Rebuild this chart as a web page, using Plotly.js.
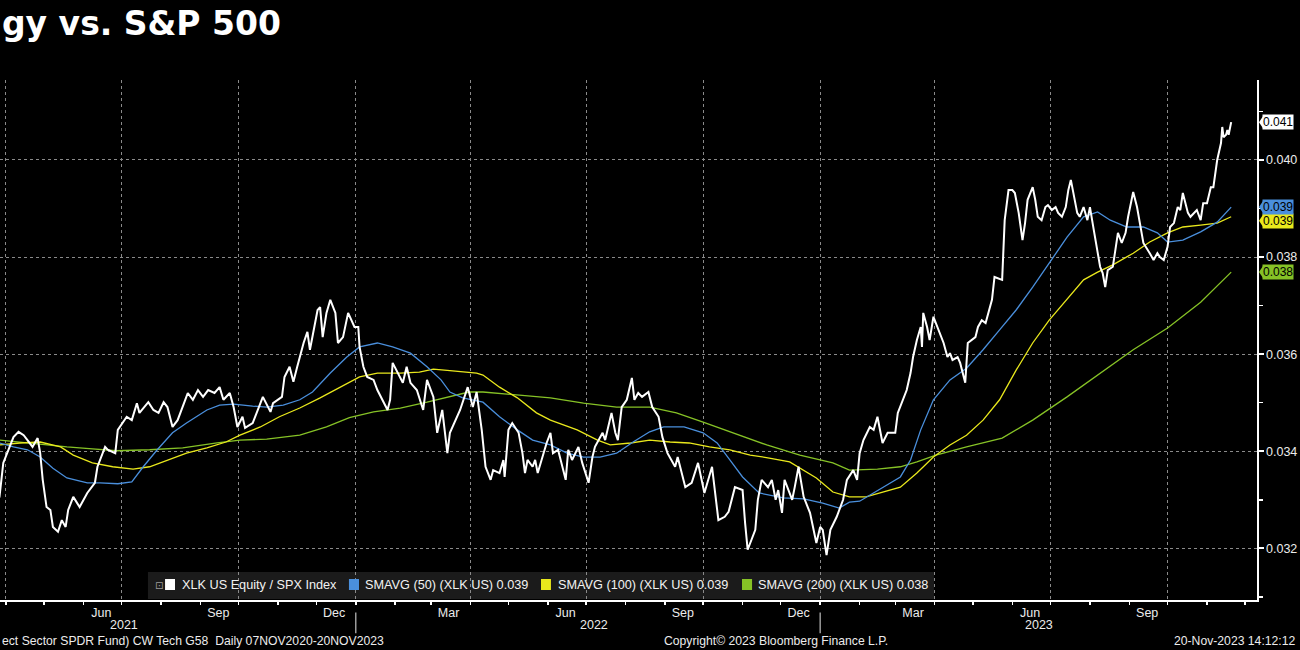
<!DOCTYPE html>
<html>
<head>
<meta charset="utf-8">
<script src="https://cdn.plot.ly/plotly-3.0.1.min.js"></script>
<style>
html,body{margin:0;padding:0;background:#000;}
#chart{width:1300px;height:650px;}
</style>
</head>
<body>
<div id="chart"></div>
<script>
// ---------------- DATA ----------------
const ratioDates = ["2021-03-24","2021-03-27","2021-03-30","2021-04-04","2021-04-07","2021-04-11","2021-04-15","2021-04-18","2021-04-22","2021-04-26","2021-04-28","2021-04-30","2021-05-03","2021-05-06","2021-05-08","2021-05-12","2021-05-15","2021-05-18","2021-05-20","2021-05-24","2021-05-29","2021-06-04","2021-06-10","2021-06-12","2021-06-18","2021-06-20","2021-06-26","2021-06-28","2021-07-05","2021-07-09","2021-07-13","2021-07-15","2021-07-22","2021-07-26","2021-07-30","2021-08-03","2021-08-06","2021-08-10","2021-08-14","2021-08-20","2021-08-22","2021-08-26","2021-08-30","2021-09-03","2021-09-07","2021-09-12","2021-09-16","2021-09-19","2021-09-24","2021-09-27","2021-09-30","2021-10-04","2021-10-06","2021-10-12","2021-10-16","2021-10-20","2021-10-26","2021-10-28","2021-11-04","2021-11-06","2021-11-10","2021-11-13","2021-11-16","2021-11-21","2021-11-24","2021-11-26","2021-12-02","2021-12-04","2021-12-06","2021-12-09","2021-12-12","2021-12-16","2021-12-18","2021-12-22","2021-12-26","2021-12-31","2022-01-03","2022-01-04","2022-01-07","2022-01-10","2022-01-15","2022-01-18","2022-01-26","2022-01-28","2022-01-30","2022-02-05","2022-02-07","2022-02-10","2022-02-13","2022-02-18","2022-02-23","2022-02-26","2022-03-03","2022-03-06","2022-03-10","2022-03-14","2022-03-16","2022-03-24","2022-03-30","2022-04-03","2022-04-06","2022-04-10","2022-04-13","2022-04-17","2022-04-19","2022-04-24","2022-04-27","2022-04-28","2022-05-01","2022-05-04","2022-05-09","2022-05-12","2022-05-14","2022-05-16","2022-05-20","2022-05-22","2022-05-24","2022-05-31","2022-06-03","2022-06-05","2022-06-09","2022-06-15","2022-06-17","2022-06-20","2022-06-25","2022-06-28","2022-07-03","2022-07-06","2022-07-08","2022-07-14","2022-07-16","2022-07-21","2022-07-24","2022-07-26","2022-07-29","2022-08-02","2022-08-06","2022-08-08","2022-08-11","2022-08-14","2022-08-19","2022-08-22","2022-08-27","2022-08-30","2022-09-03","2022-09-09","2022-09-11","2022-09-17","2022-09-22","2022-09-27","2022-10-02","2022-10-08","2022-10-13","2022-10-18","2022-10-21","2022-10-26","2022-11-01","2022-11-03","2022-11-05","2022-11-11","2022-11-13","2022-11-16","2022-11-21","2022-11-24","2022-11-27","2022-11-29","2022-12-02","2022-12-04","2022-12-10","2022-12-12","2022-12-15","2022-12-19","2022-12-24","2022-12-29","2023-01-01","2023-01-03","2023-01-06","2023-01-09","2023-01-14","2023-01-19","2023-01-22","2023-01-27","2023-01-30","2023-02-01","2023-02-04","2023-02-09","2023-02-12","2023-02-15","2023-02-19","2023-02-23","2023-03-01","2023-03-03","2023-03-07","2023-03-10","2023-03-13","2023-03-15","2023-03-18","2023-03-21","2023-03-22","2023-03-23","2023-03-26","2023-03-28","2023-03-31","2023-04-05","2023-04-08","2023-04-11","2023-04-13","2023-04-15","2023-04-19","2023-04-21","2023-04-23","2023-04-25","2023-04-27","2023-05-03","2023-05-05","2023-05-08","2023-05-11","2023-05-13","2023-05-16","2023-05-18","2023-05-24","2023-05-26","2023-05-29","2023-06-01","2023-06-03","2023-06-06","2023-06-09","2023-06-11","2023-06-13","2023-06-17","2023-06-19","2023-06-21","2023-06-24","2023-06-27","2023-06-29","2023-07-02","2023-07-05","2023-07-07","2023-07-10","2023-07-13","2023-07-15","2023-07-17","2023-07-19","2023-07-22","2023-07-24","2023-07-27","2023-07-30","2023-08-01","2023-08-04","2023-08-07","2023-08-09","2023-08-11","2023-08-13","2023-08-15","2023-08-19","2023-08-21","2023-08-23","2023-08-26","2023-08-29","2023-08-31","2023-09-03","2023-09-04","2023-09-07","2023-09-10","2023-09-12","2023-09-17","2023-09-20","2023-09-23","2023-09-25","2023-09-28","2023-10-01","2023-10-03","2023-10-06","2023-10-09","2023-10-11","2023-10-13","2023-10-17","2023-10-19","2023-10-24","2023-10-27","2023-10-29","2023-11-01","2023-11-04","2023-11-06","2023-11-09","2023-11-12","2023-11-13","2023-11-14","2023-11-16","2023-11-17","2023-11-18","2023-11-20"];
const ratioValues = [0.03290,0.03306,0.03376,0.03409,0.03429,0.03440,0.03433,0.03423,0.03409,0.03427,0.03396,0.03341,0.03285,0.03279,0.03244,0.03234,0.03258,0.03244,0.03279,0.03306,0.03285,0.03314,0.03335,0.03368,0.03409,0.03403,0.03396,0.03444,0.03471,0.03464,0.03499,0.03479,0.03501,0.03485,0.03479,0.03501,0.03491,0.03450,0.03464,0.03506,0.03520,0.03506,0.03526,0.03512,0.03526,0.03520,0.03532,0.03506,0.03520,0.03491,0.03450,0.03471,0.03448,0.03458,0.03485,0.03512,0.03481,0.03499,0.03512,0.03553,0.03574,0.03543,0.03574,0.03623,0.03646,0.03609,0.03691,0.03697,0.03635,0.03685,0.03712,0.03685,0.03623,0.03635,0.03685,0.03656,0.03656,0.03615,0.03574,0.03553,0.03547,0.03526,0.03485,0.03506,0.03582,0.03553,0.03541,0.03574,0.03541,0.03526,0.03485,0.03547,0.03512,0.03438,0.03485,0.03396,0.03438,0.03485,0.03532,0.03491,0.03522,0.03444,0.03368,0.03341,0.03361,0.03355,0.03382,0.03347,0.03444,0.03458,0.03438,0.03396,0.03355,0.03382,0.03368,0.03382,0.03355,0.03417,0.03438,0.03396,0.03403,0.03341,0.03403,0.03382,0.03409,0.03376,0.03335,0.03388,0.03409,0.03438,0.03423,0.03479,0.03438,0.03423,0.03491,0.03506,0.03551,0.03506,0.03520,0.03512,0.03522,0.03491,0.03471,0.03429,0.03396,0.03368,0.03388,0.03326,0.03335,0.03376,0.03314,0.03368,0.03258,0.03265,0.03275,0.03326,0.03320,0.03252,0.03197,0.03238,0.03300,0.03341,0.03326,0.03341,0.03300,0.03320,0.03273,0.03341,0.03300,0.03326,0.03368,0.03306,0.03273,0.03211,0.03244,0.03238,0.03186,0.03238,0.03265,0.03300,0.03341,0.03361,0.03341,0.03396,0.03423,0.03450,0.03444,0.03471,0.03417,0.03438,0.03438,0.03479,0.03506,0.03526,0.03561,0.03594,0.03629,0.03656,0.03615,0.03685,0.03656,0.03629,0.03677,0.03644,0.03623,0.03594,0.03602,0.03588,0.03594,0.03582,0.03561,0.03541,0.03623,0.03635,0.03656,0.03670,0.03664,0.03685,0.03712,0.03759,0.03753,0.03876,0.03938,0.03938,0.03932,0.03891,0.03835,0.03870,0.03918,0.03944,0.03918,0.03883,0.03876,0.03903,0.03907,0.03897,0.03903,0.03891,0.03883,0.03903,0.03938,0.03959,0.03932,0.03891,0.03883,0.03903,0.03876,0.03903,0.03856,0.03808,0.03780,0.03767,0.03738,0.03773,0.03780,0.03815,0.03850,0.03829,0.03850,0.03883,0.03918,0.03934,0.03903,0.03862,0.03829,0.03808,0.03794,0.03808,0.03800,0.03794,0.03821,0.03862,0.03870,0.03903,0.03897,0.03932,0.03891,0.03883,0.03897,0.03876,0.03911,0.03911,0.03944,0.03944,0.04000,0.04035,0.04068,0.04047,0.04052,0.04062,0.04052,0.04078];

const sma50Dates = ["2021-03-20","2021-03-27","2021-04-07","2021-04-18","2021-04-28","2021-05-08","2021-05-19","2021-06-04","2021-06-14","2021-06-28","2021-07-09","2021-07-18","2021-07-29","2021-08-10","2021-08-21","2021-09-06","2021-09-16","2021-09-27","2021-10-12","2021-10-23","2021-11-05","2021-11-18","2021-11-28","2021-12-12","2021-12-25","2022-01-04","2022-01-18","2022-01-30","2022-02-13","2022-02-26","2022-03-09","2022-03-16","2022-03-26","2022-04-11","2022-04-24","2022-05-08","2022-05-20","2022-06-03","2022-06-16","2022-06-29","2022-07-12","2022-07-25","2022-08-07","2022-08-20","2022-08-31","2022-09-16","2022-10-01","2022-10-12","2022-10-22","2022-11-01","2022-11-14","2022-12-03","2022-12-19","2023-01-03","2023-01-16","2023-01-24","2023-02-01","2023-02-12","2023-02-23","2023-03-05","2023-03-13","2023-03-21","2023-03-31","2023-04-13","2023-04-26","2023-05-09","2023-05-22","2023-06-04","2023-06-17","2023-06-30","2023-07-14","2023-07-27","2023-08-07","2023-08-17","2023-08-30","2023-09-12","2023-09-23","2023-10-01","2023-10-13","2023-10-27","2023-11-09","2023-11-20"];
const sma50Values = [0.03425,0.03417,0.03409,0.03403,0.03388,0.03365,0.03345,0.03335,0.03335,0.03333,0.03337,0.03368,0.03403,0.03438,0.03458,0.03485,0.03495,0.03497,0.03493,0.03491,0.03495,0.03506,0.03522,0.03561,0.03594,0.03615,0.03623,0.03615,0.03602,0.03574,0.03547,0.03522,0.03510,0.03501,0.03471,0.03444,0.03423,0.03413,0.03396,0.03388,0.03388,0.03396,0.03419,0.03440,0.03450,0.03450,0.03438,0.03417,0.03382,0.03347,0.03314,0.03304,0.03302,0.03293,0.03283,0.03295,0.03297,0.03314,0.03330,0.03347,0.03382,0.03444,0.03506,0.03547,0.03571,0.03609,0.03650,0.03691,0.03738,0.03788,0.03841,0.03883,0.03893,0.03876,0.03862,0.03862,0.03850,0.03831,0.03835,0.03852,0.03872,0.03903];

const sma100Dates = ["2021-03-20","2021-03-27","2021-04-12","2021-04-28","2021-05-14","2021-05-24","2021-06-08","2021-06-24","2021-07-10","2021-07-23","2021-08-06","2021-08-21","2021-09-06","2021-09-21","2021-10-02","2021-10-18","2021-11-02","2021-11-18","2021-12-04","2021-12-19","2022-01-04","2022-01-18","2022-02-05","2022-02-20","2022-03-03","2022-03-16","2022-04-06","2022-04-11","2022-04-24","2022-05-08","2022-05-23","2022-06-03","2022-06-24","2022-07-10","2022-07-20","2022-08-05","2022-08-20","2022-09-05","2022-09-20","2022-10-06","2022-10-22","2022-11-07","2022-11-22","2022-12-08","2022-12-19","2022-12-29","2023-01-11","2023-01-24","2023-02-06","2023-02-19","2023-03-05","2023-03-18","2023-03-31","2023-04-13","2023-04-26","2023-05-09","2023-05-22","2023-06-04","2023-06-17","2023-06-30","2023-07-14","2023-07-27","2023-08-07","2023-08-19","2023-09-04","2023-09-17","2023-10-01","2023-10-13","2023-10-27","2023-11-09","2023-11-20"];
const sma100Values = [0.03411,0.03413,0.03417,0.03419,0.03409,0.03392,0.03376,0.03368,0.03363,0.03368,0.03382,0.03396,0.03407,0.03419,0.03433,0.03450,0.03471,0.03489,0.03510,0.03530,0.03553,0.03561,0.03561,0.03563,0.03569,0.03566,0.03561,0.03557,0.03532,0.03510,0.03479,0.03464,0.03444,0.03423,0.03413,0.03417,0.03423,0.03419,0.03417,0.03409,0.03403,0.03392,0.03386,0.03378,0.03361,0.03345,0.03316,0.03306,0.03306,0.03316,0.03326,0.03355,0.03388,0.03413,0.03433,0.03464,0.03506,0.03567,0.03623,0.03670,0.03712,0.03753,0.03769,0.03784,0.03808,0.03831,0.03850,0.03862,0.03866,0.03870,0.03883];

const sma200Dates = ["2021-03-20","2021-03-27","2021-04-22","2021-05-19","2021-06-08","2021-06-27","2021-07-23","2021-08-18","2021-09-14","2021-10-02","2021-10-23","2021-11-18","2021-12-09","2021-12-27","2022-01-15","2022-02-05","2022-02-26","2022-03-16","2022-03-31","2022-04-11","2022-05-08","2022-06-03","2022-06-29","2022-07-25","2022-08-20","2022-09-10","2022-10-01","2022-10-25","2022-11-20","2022-12-16","2023-01-11","2023-01-24","2023-02-15","2023-03-05","2023-03-18","2023-04-02","2023-04-26","2023-05-24","2023-06-17","2023-07-14","2023-08-09","2023-09-04","2023-10-01","2023-10-27","2023-11-20"];
const sma200Values = [0.03425,0.03423,0.03417,0.03409,0.03405,0.03401,0.03403,0.03407,0.03417,0.03423,0.03425,0.03433,0.03450,0.03469,0.03481,0.03489,0.03501,0.03512,0.03522,0.03522,0.03516,0.03510,0.03499,0.03491,0.03491,0.03479,0.03460,0.03438,0.03413,0.03392,0.03376,0.03361,0.03363,0.03368,0.03378,0.03392,0.03409,0.03427,0.03464,0.03512,0.03561,0.03609,0.03654,0.03707,0.03769];

const seriesNames = ["XLK US Equity / SPX Index","SMAVG (50) (XLK US)","SMAVG (100) (XLK US)","SMAVG (200) (XLK US)"];

const monthTickDates = ["2021-06-15","2021-09-15","2021-12-15","2022-03-15","2022-06-15","2022-09-15","2022-12-15","2023-03-15","2023-06-15","2023-09-15"];
const monthTickLabels = ["Jun","Sep","Dec","Mar","Jun","Sep","Dec","Mar","Jun","Sep"];
const quarterStarts = ["2021-04-01","2021-07-01","2021-10-01","2022-01-01","2022-04-01","2022-07-01","2022-10-01","2023-01-01","2023-04-01","2023-07-01","2023-10-01"];
const yearLabels = ["2021","2022","2023"];
const yearLabelDates = ["2021-07-03","2022-07-07","2023-06-22"];
const yearBoundaries = ["2022-01-01","2023-01-01"];

const titleText = "gy vs. S&P 500";
const footerLeft = "ect Sector SPDR Fund) CW Tech G58  Daily 07NOV2020-20NOV2023";
const footerMid = "Copyright\u00A9 2023 Bloomberg Finance L.P.";
const footerRight = "20-Nov-2023 14:12:12";

// ---------------- STYLE ----------------
const C_WHITE = "#ffffff", C_BLUE = "#4a8fdc", C_YELLOW = "#e9e81c", C_GREEN = "#86c226";
const FONT = "'Liberation Sans', Arial, sans-serif";
const TXT = "#ececec";
const GRID = "#8a8a8a";
const xRange = ["2021-03-27 10:00", "2023-12-10 07:00"];
const yRange = [0.030935, 0.041648];
const last = a => a[a.length - 1];
const fmt = v => v.toFixed(3);

const traces = [
  {x: sma200Dates, y: sma200Values, type: "scatter", mode: "lines", name: seriesNames[3], line: {color: C_GREEN, width: 1.3}, xaxis: "x", yaxis: "y"},
  {x: sma100Dates, y: sma100Values, type: "scatter", mode: "lines", name: seriesNames[2], line: {color: C_YELLOW, width: 1.3}, xaxis: "x", yaxis: "y"},
  {x: sma50Dates, y: sma50Values, type: "scatter", mode: "lines", name: seriesNames[1], line: {color: C_BLUE, width: 1.3}, xaxis: "x", yaxis: "y"},
  {x: ratioDates, y: ratioValues, type: "scatter", mode: "lines", name: seriesNames[0], line: {color: C_WHITE, width: 2}, xaxis: "x2", yaxis: "y"}
];

const annotations = [];
const shapes = [];

// title
annotations.push({xref: "paper", yref: "paper", x: 0, y: 1.1077, xanchor: "left", yanchor: "middle", showarrow: false,
  text: titleText, font: {family: "'DejaVu Sans', Verdana, sans-serif", size: 33, color: "#ffffff", weight: "bold"}});

// footers
const FOOT = 12.2;
annotations.push({xref: "paper", yref: "paper", x: 0, y: -0.0788, xanchor: "left", yanchor: "middle", showarrow: false, text: footerLeft, font: {family: FONT, size: FOOT, color: TXT}});
annotations.push({xref: "paper", yref: "paper", x: 0.5264, y: -0.0788, xanchor: "left", yanchor: "middle", showarrow: false, text: footerMid, font: {family: FONT, size: FOOT, color: TXT}});
annotations.push({xref: "paper", yref: "paper", x: 1.0326, y: -0.0788, xanchor: "right", yanchor: "middle", showarrow: false, text: footerRight, font: {family: FONT, size: FOOT, color: TXT}});

// year labels + separators
yearLabels.forEach((lab, i) => {
  annotations.push({xref: "x", yref: "paper", x: yearLabelDates[i], y: -0.049, xanchor: "center", yanchor: "middle", showarrow: false, text: lab, font: {family: FONT, size: 12.5, color: TXT}});
});
yearBoundaries.forEach(d => {
  shapes.push({type: "line", xref: "x", yref: "paper", x0: d, x1: d, y0: -0.024, y1: -0.064, line: {color: "#9a9a9a", width: 1.5}});
});

// legend box
shapes.push({type: "rect", xref: "paper", yref: "paper", x0: 0.1177, x1: 0.7430, y0: 0.002, y1: 0.0538, fillcolor: "#1b1b1b", line: {width: 0}, layer: "below"});
const legendItems = [
  {color: C_WHITE, text: seriesNames[0], sq: [0.1313, 0.1392], tx: 0.1432},
  {color: C_BLUE, text: seriesNames[1] + " " + fmt(last(sma50Values)), sq: [0.2776, 0.2856], tx: 0.2888},
  {color: C_YELLOW, text: seriesNames[2] + " " + fmt(last(sma100Values)), sq: [0.4304, 0.4383], tx: 0.4427},
  {color: C_GREEN, text: seriesNames[3] + " " + fmt(last(sma200Values)), sq: [0.5903, 0.5983], tx: 0.6018}
];
legendItems.forEach(it => {
  shapes.push({type: "rect", xref: "paper", yref: "paper", x0: it.sq[0], x1: it.sq[1], y0: 0.0192, y1: 0.0404, fillcolor: it.color, line: {width: 0}});
  annotations.push({xref: "paper", yref: "paper", x: it.tx, y: 0.0288, xanchor: "left", yanchor: "middle", showarrow: false, text: it.text, font: {family: FONT, size: 12.7, color: "#f2f2f2"}});
});
annotations.push({xref: "paper", yref: "paper", x: 0.1265, y: 0.0288, xanchor: "center", yanchor: "middle", showarrow: false, text: "\u22A1", font: {family: "'DejaVu Sans'", size: 10, color: "#9a9a9a"}});

// last-value tags (yellow before blue so blue sits on top, as in the reference)
const tags = [
  {v: last(ratioValues), color: C_WHITE, shift: 0},
  {v: last(sma100Values), color: C_YELLOW, shift: -4},
  {v: last(sma50Values), color: C_BLUE, shift: 0},
  {v: last(sma200Values), color: C_GREEN, shift: 0}
];
tags.forEach(t => {
  shapes.push({type: "path", xref: "paper", yref: "y", xsizemode: "pixel", ysizemode: "pixel", xanchor: 1, yanchor: t.v,
    path: "M2," + t.shift + " L6," + (t.shift + 6) + " L6," + (t.shift - 6) + " Z", fillcolor: t.color, line: {width: 0}, layer: "above"});
  annotations.push({xref: "paper", yref: "y", x: 1, y: t.v, xanchor: "left", yanchor: "middle", xshift: 5, yshift: t.shift, showarrow: false,
    text: fmt(t.v), bgcolor: t.color, borderpad: 0, font: {family: FONT, size: 12, color: "#000000"}});
});

const layout = {
  width: 1300, height: 650,
  paper_bgcolor: "#000000", plot_bgcolor: "#000000",
  margin: {l: 0, r: 43, t: 80, b: 50, pad: 0},
  showlegend: false,
  xaxis: {
    type: "date", range: xRange, tickmode: "array", tickvals: monthTickDates, ticktext: monthTickLabels,
    ticks: "", showgrid: false, showline: true, linecolor: "#ffffff", linewidth: 1.5, zeroline: false,
    tickfont: {family: FONT, size: 12.5, color: TXT},
    minor: {tickmode: "array", tickvals: quarterStarts, showgrid: true, gridcolor: GRID, griddash: "dot", gridwidth: 1, ticks: ""}
  },
  xaxis2: {
    type: "date", range: xRange, overlaying: "x", anchor: "y", side: "bottom",
    tickmode: "linear", tick0: "2021-01-01", dtick: "M1", ticks: "outside", ticklen: 4, tickwidth: 1.5, tickcolor: "#ffffff",
    showticklabels: false, showgrid: false, showline: false, zeroline: false
  },
  yaxis: {
    side: "right", range: yRange, tickmode: "linear", tick0: 0.032, dtick: 0.002, tickformat: ".3f",
    ticks: "outside", ticklen: 5, tickwidth: 2, tickcolor: "#ffffff",
    showline: true, linecolor: "#ffffff", linewidth: 1.5,
    showgrid: true, gridcolor: GRID, griddash: "dot", gridwidth: 1, zeroline: false,
    tickfont: {family: FONT, size: 12.5, color: TXT},
    minor: {tick0: 0.031, dtick: 0.001, ticks: "outside", ticklen: 4, tickwidth: 1.5, tickcolor: "#ffffff", showgrid: false}
  },
  annotations: annotations,
  shapes: shapes
};

Plotly.newPlot("chart", traces, layout, {staticPlot: true, displayModeBar: false});
</script>
</body>
</html>
